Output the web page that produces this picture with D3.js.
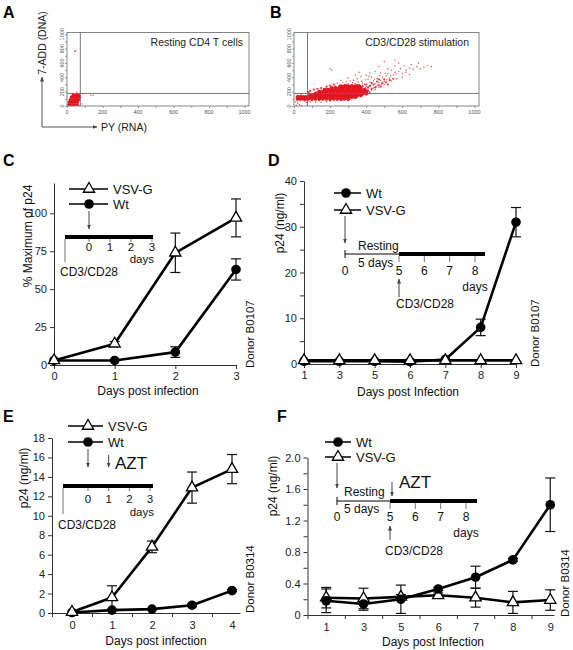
<!DOCTYPE html>
<html><head><meta charset="utf-8">
<script src="https://cdn.jsdelivr.net/npm/d3@7"></script>
<style>
body{margin:0;background:#fff}
svg{display:block}
text{font-family:"Liberation Sans",Arial,Helvetica,sans-serif}
</style></head>
<body><svg id="chart" width="573" height="650"></svg>
<script>
// ---------------- DATA ----------------
// Panel A / B flow cytometry (PY RNA vs 7-ADD DNA), data units
const scatterTicks = [0,200,400,600,800,1000];
const gateX = 75, gateY = 175;
const aDenseRows = [
  [20,[10,22,34,46,58]],
  [55,[12,24,36,48,60]],
  [90,[18,30,42,54,66]],
  [125,[24,36,48,60,70]],
  [150,[34,46,58,68]]
];
const aMid = [];
const aSparse = [[44,760],[48,775],[135,150],[148,152],[70,8],[85,30],[90,170],[55,190],[30,175],[78,120]];
const bDenseRows = [
  [100,[20,35,50,65,80,100,120,140,160,180,200,220,240,260,280,300]],
  [125,[20,35,50,65,80,100,120,140,160,180,200,220,240,260,280,300,320,340]],
  [150,[90,110,130,150,170,190,210,230,250,270,290,310,330,350,370]],
  [175,[120,140,160,180,200,220,240,260,280,300,320,340,360,380,400]],
  [200,[140,160,180,200,220,240,260,280,300,320,340,360,380,400]],
  [225,[170,190,210,230,250,270,290,310,330,350,370,390]],
  [250,[210,230,250,270,290,310,330,350,370]],
  [275,[260,280,300,320,340,360]]
];
const bMid = [
 [410,210],[430,240],[450,260],[420,280],[440,300],[470,290],[490,320],[460,340],[430,320],[400,300],[380,280],[410,260],[480,270],[510,330],[530,360],[500,370],[470,370],[520,300],[550,380],[400,230],[370,260],[350,290],[330,280],[310,270],[290,290],[270,280],[250,270],[230,260],[390,190],[420,180],[100,80],[60,85],[140,80],[200,80],[260,85],[300,80],[80,190],[90,210],[110,230],[130,240],[150,250],[180,270],[200,285],[220,300]
];
const bSparse = [
 [60,70],[70,50],[90,60],[120,55],[150,50],[180,60],[200,70],[240,75],[270,80],[310,95],[330,110],[350,120],[370,140],[380,160],[410,170],[420,200],[430,220],[410,240],[400,270],[390,300],[380,320],[360,300],[340,310],[320,300],[300,310],[280,300],[250,290],[230,280],[200,260],[180,240],[150,220],[130,200],[120,180],[100,170],[85,160],[40,160],[20,150],[15,90],[10,60],[20,40],[30,20],[40,5],[12,10],
 [440,250],[460,280],[450,310],[470,330],[440,350],[420,330],[410,370],[430,400],[460,380],[480,360],[500,340],[490,400],[510,420],[530,390],[520,450],[550,430],[560,470],[540,500],[580,480],[600,450],[590,520],[620,500],[640,530],[610,560],[660,510],[680,550],[700,520],[720,540],[740,560],[760,550],[650,580],[580,600],[560,640],[500,620],[470,550],[450,480],[420,460],[400,430],[370,410],[350,380],[330,360],[310,350],[290,340],[270,330],[260,360],[240,320],[300,390],[340,430],[360,470],[200,520],[210,500],[480,460],[520,520],[620,470],[690,600],[560,560],[640,440],[600,400],[570,380],[540,350],[500,300],[470,260],[450,230],[300,180],
 [345,265],[365,285],[395,255],[425,285],[455,265],[375,345],[395,365],[355,335],[325,325],[485,305],[515,365],[445,375],[415,415],[475,425],[505,455],[535,425],[565,445]
];

// Panel C
const cDays = [0,1,2,3];
const cVsvG = [3,14,74,97];
const cVsvGErr = [0,1.5,13,12.5];
const cWt = [3,3,8.5,63];
const cWtErr = [0,0,3.5,7];
const cYTicks = [0,25,50,75,100];

// Panel D
const dDays = ["1","3","5","6","7","8","9"];
const dWt = [0.6,0.6,0.6,0.5,1.0,8.0,31.0];
const dWtErr = [0,0,0,0,0,1.8,3.2];
const dVsvG = [0.8,0.8,0.8,0.8,0.8,0.8,0.8];
const dVsvGErr = [0,0,0,0,0,0,0];

// Panel E
const eDays = [0,1,2,3,4];
const eVsvG = [0.1,1.6,6.8,12.9,14.8];
const eVsvGErr = [0,1.2,0.6,1.6,1.5];
const eWt = [0.05,0.3,0.4,0.8,2.3];
const eWtErr = [0,0,0,0.15,0.1];

// Panel F
const fDays = ["1","3","5","6","7","8","9"];
const fWt = [0.18,0.14,0.2,0.33,0.48,0.7,1.4];
const fWtErr = [0.15,0.08,0.18,0.02,0.14,0.02,0.34];
const fVsvG = [0.22,0.21,0.23,0.25,0.22,0.16,0.19];
const fVsvGErr = [0.13,0.13,0.03,0.03,0.12,0.14,0.13];

// Timeline labels
const tlCLabels = [0,1,2,3];
const tlDLabels = [0,5,6,7,8];

// ---------------- DRAW ----------------
const svg = d3.select("#chart");
const defs = svg.append("defs");
defs.append("marker").attr("id","ah").attr("viewBox","0 0 10 10")
  .attr("refX",9).attr("refY",5).attr("markerWidth",5).attr("markerHeight",5)
  .attr("orient","auto-start-reverse")
  .append("path").attr("d","M0,1 L10,5 L0,9 Z").attr("fill","#444");

function txt(x,y,s,opt={}){
  const t = svg.append("text").attr("x",x).attr("y",y).text(s)
    .attr("font-size",opt.size||12).attr("fill",opt.fill||"#111")
    .attr("text-anchor",opt.anchor||"start");
  if(opt.weight) t.attr("font-weight",opt.weight);
  if(opt.family) t.attr("font-family",opt.family);
  return t;
}
function vtxt(x,y,s,opt={}){
  return svg.append("text").attr("transform",`translate(${x},${y}) rotate(-90)`).text(s)
    .attr("font-size",opt.size||12).attr("fill",opt.fill||"#111")
    .attr("text-anchor",opt.anchor||"middle");
}
function arrow(x1,y1,x2,y2,col="#444",w=1){
  svg.append("line").attr("x1",x1).attr("y1",y1).attr("x2",x2).attr("y2",y2)
    .attr("stroke",col).attr("stroke-width",w).attr("marker-end","url(#ah)");
}
function ln(x1,y1,x2,y2,col="#000",w=1){
  svg.append("line").attr("x1",x1).attr("y1",y1).attr("x2",x2).attr("y2",y2)
    .attr("stroke",col).attr("stroke-width",w);
}

// Panel letters
[["A",3,18],["B",270,18],["C",3,166],["D",268,166],["E",3,422],["F",277,422]].forEach(([l,x,y])=>
  txt(x,y,l,{size:16,weight:"bold",fill:"#000"}));

// ---- Scatter panels ----
function scatterPanel(xs, ys, denseRows, mid, sparse, title, titleX, rDense){
  const g = svg.append("g");
  const [x0,x1] = xs.range(), [y0,y1] = ys.range();
  const dense = [];
  denseRows.forEach(([y,xsv])=>xsv.forEach(x=>dense.push([x,y])));
  g.selectAll(".sp").data(sparse).join("circle").attr("cx",d=>xs(d[0])).attr("cy",d=>ys(d[1]))
    .attr("r",0.7).attr("fill","#e8141c").attr("opacity",0.8);
  g.selectAll(".mp").data(mid).join("circle").attr("cx",d=>xs(d[0])).attr("cy",d=>ys(d[1]))
    .attr("r",1.1).attr("fill","#e8141c").attr("opacity",0.85);
  g.selectAll(".dp").data(dense).join("circle").attr("cx",d=>xs(d[0])).attr("cy",d=>ys(d[1]))
    .attr("r",rDense).attr("fill","#e8141c");
  g.append("rect").attr("x",x0).attr("y",y1).attr("width",x1-x0).attr("height",y0-y1)
    .attr("fill","none").attr("stroke","#7a7a7a").attr("stroke-width",0.9);
  g.append("line").attr("x1",xs(gateX)).attr("x2",xs(gateX)).attr("y1",y0).attr("y2",y1).attr("stroke","#666").attr("stroke-width",0.9);
  g.append("line").attr("x1",x0).attr("x2",x1).attr("y1",ys(gateY)).attr("y2",ys(gateY)).attr("stroke","#666").attr("stroke-width",0.9);
  const ax = g.append("g").attr("transform",`translate(0,${y0})`)
    .call(d3.axisBottom(xs).tickValues(d3.range(0,1001,100)).tickSize(2).tickSizeOuter(0).tickFormat(""));
  const ay = g.append("g").attr("transform",`translate(${x0},0)`)
    .call(d3.axisLeft(ys).tickValues(d3.range(0,1001,100)).tickSize(2).tickSizeOuter(0).tickFormat(""));
  [ax,ay].forEach(a=>{a.select(".domain").remove();a.selectAll("line").attr("stroke","#777").attr("stroke-width",0.7);});
  g.selectAll(".xl").data(scatterTicks).join("text").attr("x",d=>xs(d)).attr("y",y0+7.5)
    .attr("text-anchor","middle").attr("font-size",5.5).attr("fill","#555").text(d=>d);
  g.selectAll(".yl").data(scatterTicks).join("text")
    .attr("transform",d=>`translate(${x0-3.5},${ys(d)}) rotate(-90)`)
    .attr("text-anchor","middle").attr("font-size",5.5).attr("fill","#555").text(d=>d);
  txt(titleX,46,title,{size:10.5,anchor:"end",family:"'Open Sans',sans-serif",fill:"#222"});
}
const aX = d3.scaleLinear().domain([0,1025]).range([67,249]);
const aY = d3.scaleLinear().domain([0,1025]).range([106,32.5]);
const bX = d3.scaleLinear().domain([0,1025]).range([294,479]);
const bY = d3.scaleLinear().domain([0,1025]).range([106,32.5]);
scatterPanel(aX,aY,aDenseRows,aMid,aSparse,"Resting CD4 T cells",243,1.6);
scatterPanel(bX,bY,bDenseRows,bMid,bSparse,"CD3/CD28 stimulation",469,2.0);
arrow(42,127,42,77,"#555",1);
arrow(42,127,97,127,"#555",1);
vtxt(46,43,"7-ADD (DNA)",{size:10.5}).attr("font-family","'Open Sans',sans-serif").attr("fill","#222");
txt(101,131,"PY (RNA)",{size:10.5,family:"'Open Sans',sans-serif",fill:"#222"});

// ---- Line panels ----
function styleAxis(g){
  g.select(".domain").attr("stroke","#333").attr("stroke-width",1);
  g.selectAll(".tick line").attr("stroke","#333").attr("stroke-width",1);
  g.selectAll(".tick text").attr("font-size",11).attr("fill","#222")
    .attr("font-family","'Liberation Sans',Arial,sans-serif");
}
function triPath(size=55){ return d3.symbol().type(d3.symbolTriangle).size(size)(); }

function drawSeries(g, xs, ys, xv, series){
  const line = d3.line().x(d=>xs(d.x)).y(d=>ys(d.y));
  series.forEach(s=>{
    s.pts = s.vals.map((v,i)=>({x:xv[i],y:v,e:s.errs[i]}));
    g.append("path").datum(s.pts).attr("d",line).attr("fill","none")
      .attr("stroke","#000").attr("stroke-width",2.6).attr("stroke-linejoin","round");
  });
  series.forEach(s=>{
    const eb = s.pts.filter(p=>p.e>0);
    const eg = g.append("g").attr("stroke","#111").attr("stroke-width",1.2);
    eg.selectAll(".v").data(eb).join("line").attr("x1",d=>xs(d.x)).attr("x2",d=>xs(d.x))
      .attr("y1",d=>ys(d.y-d.e)).attr("y2",d=>ys(d.y+d.e));
    eg.selectAll(".t").data(eb).join("line").attr("x1",d=>xs(d.x)-5).attr("x2",d=>xs(d.x)+5)
      .attr("y1",d=>ys(d.y+d.e)).attr("y2",d=>ys(d.y+d.e));
    eg.selectAll(".b").data(eb).join("line").attr("x1",d=>xs(d.x)-5).attr("x2",d=>xs(d.x)+5)
      .attr("y1",d=>ys(Math.max(0,d.y-d.e))).attr("y2",d=>ys(Math.max(0,d.y-d.e)));
  });
  series.forEach(s=>{
    if(s.kind==="circle"){
      g.selectAll(null).data(s.pts).join("circle").attr("cx",d=>xs(d.x)).attr("cy",d=>ys(d.y))
        .attr("r",4.8).attr("fill","#000");
    } else {
      g.selectAll(null).data(s.pts).join("path").attr("d",triPath())
        .attr("transform",d=>`translate(${xs(d.x)},${ys(d.y)})`)
        .attr("fill","#fff").attr("stroke","#000").attr("stroke-width",1.3);
    }
  });
}
function legendItem(x1,x2,xm,y,kind,label){
  ln(x1,y,x2,y,"#000",1.5);
  if(kind==="circle") svg.append("circle").attr("cx",xm).attr("cy",y).attr("r",4.8).attr("fill","#000");
  else svg.append("path").attr("d",triPath()).attr("transform",`translate(${xm},${y})`)
        .attr("fill","#fff").attr("stroke","#000").attr("stroke-width",1.3);
  txt(x2+5,y+4.5,label,{size:13});
}
const intFmt = d3.format("d");

// Panel C
{
  const xs = d3.scaleLinear().domain([0,3]).range([54,236]);
  const ys = d3.scaleLinear().domain([0,120]).range([365,183]);
  const g = svg.append("g");
  styleAxis(g.append("g").attr("transform","translate(54,0)")
    .call(d3.axisLeft(ys).tickValues(cYTicks).tickSize(4).tickSizeOuter(0)));
  styleAxis(g.append("g").attr("transform","translate(0,365)")
    .call(d3.axisBottom(xs).tickValues(cDays).tickSize(4).tickSizeOuter(0).tickFormat(intFmt)));
  drawSeries(g,xs,ys,cDays,[
    {vals:cWt,errs:cWtErr,kind:"circle"},
    {vals:cVsvG,errs:cVsvGErr,kind:"tri"}]);
  vtxt(32,236,"% Maximum of p24",{size:12});
  txt(148,395,"Days post infection",{size:12,anchor:"middle"});
  vtxt(254,368,"Donor B0107",{size:11.5,anchor:"start"});
  legendItem(69,108,89,189,"tri","VSV-G");
  legendItem(69,108,89,204,"circle","Wt");
  const tl = d3.scaleLinear().domain([0,3]).range([89,152]);
  arrow(tl(0),211,tl(0),229,"#444",1);
  ln(65,237,153,237,"#000",4);
  ln(65,239,65,262,"#888",1.2);
  tlCLabels.forEach(v=>{ ln(tl(v),239,tl(v),242,"#777",1); txt(tl(v),251,v,{size:11.5,anchor:"middle"}); });
  txt(154,263,"days",{size:11.5,anchor:"end"});
  txt(60,276,"CD3/CD28",{size:12});
}

// Panel D
{
  const xs = d3.scalePoint().domain(dDays).range([304,516]);
  const ys = d3.scaleLinear().domain([0,40]).range([364,181]);
  const g = svg.append("g");
  styleAxis(g.append("g").attr("transform","translate(304,0)")
    .call(d3.axisLeft(ys).tickValues(d3.range(0,41,5)).tickSize(4).tickSizeOuter(0)
      .tickFormat(d=>d%10===0?d:"")));
  styleAxis(g.append("g").attr("transform","translate(0,364)")
    .call(d3.axisBottom(xs).tickSize(4).tickSizeOuter(0)));
  drawSeries(g,xs,ys,dDays,[
    {vals:dWt,errs:dWtErr,kind:"circle"},
    {vals:dVsvG,errs:dVsvGErr,kind:"tri"}]);
  vtxt(284,223,"p24 (ng/ml)",{size:12});
  txt(408,396,"Days post Infection",{size:12,anchor:"middle"});
  vtxt(539,367,"Donor B0107",{size:11.5,anchor:"start"});
  legendItem(334,361,346,193,"circle","Wt");
  legendItem(334,361,346,210,"tri","VSV-G");
  const tl = d3.scaleLinear().domain([0,5,8]).range([345,399,475]);
  arrow(tl(0),216,tl(0),243,"#444",1);
  ln(tl(0),254,tl(5),254,"#000",1);
  ln(tl(0),250,tl(0),258,"#000",1);
  ln(tl(5),254,485,254,"#000",4);
  tlDLabels.forEach(v=>{ if(v>0) ln(tl(v),256,tl(v),262,"#777",1); txt(tl(v),275,v,{size:12,anchor:"middle"}); });
  txt(358,250,"Resting",{size:12});
  txt(358,267,"5 days",{size:12});
  txt(475,291,"days",{size:12,anchor:"middle"});
  arrow(tl(5),297,tl(5),279,"#444",1);
  txt(425,308,"CD3/CD28",{size:12,anchor:"middle"});
}

// Panel E
{
  const xs = d3.scaleLinear().domain([-0.5,4.2]).range([52,240]);
  const ys = d3.scaleLinear().domain([0,18]).range([613,438]);
  const g = svg.append("g");
  styleAxis(g.append("g").attr("transform","translate(52,0)")
    .call(d3.axisLeft(ys).tickValues(d3.range(0,19,2)).tickSize(4).tickSizeOuter(0)));
  styleAxis(g.append("g").attr("transform","translate(0,613)")
    .call(d3.axisBottom(xs).tickValues([-0.5,0.5,1.5,2.5,3.5]).tickSize(4).tickSizeOuter(0).tickFormat("")));
  const lab = g.append("g").attr("transform","translate(0,613)")
    .call(d3.axisBottom(xs).tickValues(eDays).tickSize(0).tickPadding(8).tickFormat(intFmt));
  lab.select(".domain").remove(); styleAxis(lab);
  drawSeries(g,xs,ys,eDays,[
    {vals:eWt,errs:eWtErr,kind:"circle"},
    {vals:eVsvG,errs:eVsvGErr,kind:"tri"}]);
  vtxt(28,478,"p24 (ng/ml)",{size:12});
  txt(156,645,"Days post infection",{size:12,anchor:"middle"});
  vtxt(254,613,"Donor B0314",{size:11.5,anchor:"start"});
  legendItem(68,103,88,426,"tri","VSV-G");
  legendItem(68,103,88,442,"circle","Wt");
  const tl = d3.scaleLinear().domain([0,3]).range([88,150]);
  arrow(tl(0),449,tl(0),467,"#444",1);
  arrow(tl(1),455,tl(1),467,"#444",1);
  txt(115,469,"AZT",{size:17});
  ln(63,486,153,486,"#000",4);
  ln(63,488,63,514,"#888",1.2);
  tlCLabels.forEach(v=>{ ln(tl(v),488,tl(v),491,"#777",1); txt(tl(v),503,v,{size:11.5,anchor:"middle"}); });
  txt(154,516,"days",{size:11.5,anchor:"end"});
  txt(58,529,"CD3/CD28",{size:12});
}

// Panel F
{
  const xi = d3.scaleLinear().domain([-0.5,6.1]).range([307.5,554]);
  const ys = d3.scaleLinear().domain([0,2.0]).range([615,457.5]);
  const g = svg.append("g");
  styleAxis(g.append("g").attr("transform","translate(307.5,0)")
    .call(d3.axisLeft(ys).tickValues(d3.range(0,11).map(i=>i*0.2)).tickSize(4).tickSizeOuter(0)
      .tickFormat(d=>{const k=Math.round(d*10); return k===0?"0":(k%4===0?(k/10).toFixed(1):"");})));
  styleAxis(g.append("g").attr("transform","translate(0,615)")
    .call(d3.axisBottom(xi).tickValues([-0.5,0.5,1.5,2.5,3.5,4.5,5.5]).tickSize(4).tickSizeOuter(0).tickFormat("")));
  const idx = fDays.map((d,i)=>i);
  const lab = g.append("g").attr("transform","translate(0,615)")
    .call(d3.axisBottom(xi).tickValues(idx).tickSize(0).tickPadding(8).tickFormat(i=>fDays[i]));
  lab.select(".domain").remove(); styleAxis(lab);
  drawSeries(g,xi,ys,idx,[
    {vals:fVsvG,errs:fVsvGErr,kind:"tri"},
    {vals:fWt,errs:fWtErr,kind:"circle"}]);
  vtxt(277,486,"p24 (ng/ml)",{size:12});
  txt(433,646,"Days post Infection",{size:12,anchor:"middle"});
  vtxt(569,617,"Donor B0314",{size:11.5,anchor:"start"});
  legendItem(325,351,338,442,"circle","Wt");
  legendItem(325,351,338,457,"tri","VSV-G");
  const tl = d3.scaleLinear().domain([0,5,8]).range([337,390,466]);
  arrow(tl(0),463,tl(0),488,"#444",1);
  txt(344,496,"Resting",{size:12});
  arrow(tl(5)+2,482,tl(5)+2,496,"#444",1);
  txt(399,488,"AZT",{size:17});
  ln(tl(0),501,tl(5),501,"#000",1);
  ln(tl(0),497,tl(0),505,"#000",1);
  ln(tl(5),501,477,501,"#000",4);
  tlDLabels.forEach(v=>{ if(v>0) ln(tl(v),503,tl(v),509,"#777",1); txt(tl(v),521,v,{size:12,anchor:"middle"}); });
  txt(344,513,"5 days",{size:12});
  txt(466,537,"days",{size:12,anchor:"middle"});
  arrow(tl(5),540,tl(5),526,"#444",1);
  txt(414,555,"CD3/CD28",{size:12,anchor:"middle"});
}
</script></body></html>
